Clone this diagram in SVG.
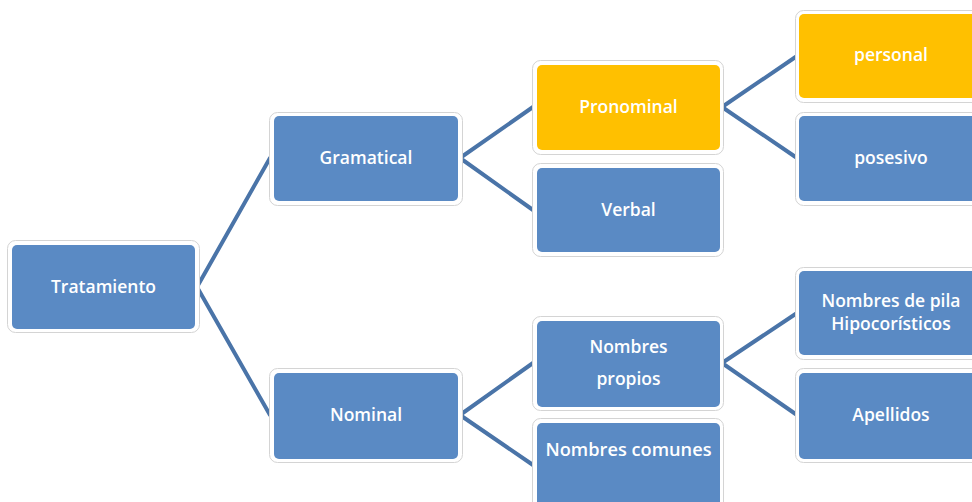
<svg xmlns="http://www.w3.org/2000/svg" width="972" height="502" viewBox="0 0 972 502">
<style>
.o{fill:#fff;stroke:#d4d4d4;stroke-width:1}
.b{fill:#5a8ac4}
.y{fill:#ffc000}
.t{font-family:"Open Sans","Liberation Sans",sans-serif;font-weight:600;font-size:17.5px;fill:#fff;text-anchor:middle}
.c{stroke:#4a74a8;stroke-width:4;fill:none;stroke-linecap:round}
</style>
<g id="connectors">
<path class="c" d="M197,287 L270,158 M197,287 L270,415"/>
<path class="c" d="M460,158 L533,107 M460,158 L533,210"/>
<path class="c" d="M460,415 L533,363 M460,415 L533,465"/>
<path class="c" d="M722,107 L797,56 M722,107 L797,158"/>
<path class="c" d="M722,363 L797,313 M722,363 L797,415"/>
</g>
<g id="n-tratamiento">
<rect class="o" x="7.5" y="240.5" width="192" height="92" rx="8"/>
<rect class="b" x="12" y="245" width="183" height="84" rx="5"/>
<text class="t" x="103.5" y="293">Tratamiento</text>
</g>
<g id="n-gramatical">
<rect class="o" x="269.5" y="112.5" width="193" height="93" rx="8"/>
<rect class="b" x="274" y="116" width="184" height="85" rx="5"/>
<text class="t" x="366" y="164">Gramatical</text>
</g>
<g id="n-nominal">
<rect class="o" x="269.5" y="368.5" width="193" height="94" rx="8"/>
<rect class="b" x="274" y="373" width="184" height="86" rx="5"/>
<text class="t" x="366" y="421">Nominal</text>
</g>
<g id="n-pronominal">
<rect class="o" x="532.5" y="60.5" width="191" height="94" rx="8"/>
<rect class="y" x="537" y="65" width="183" height="85" rx="5"/>
<text class="t" x="628.5" y="113">Pronominal</text>
</g>
<g id="n-verbal">
<rect class="o" x="532.5" y="163.5" width="191" height="93" rx="8"/>
<rect class="b" x="537" y="168" width="183" height="84" rx="5"/>
<text class="t" x="628.5" y="216">Verbal</text>
</g>
<g id="n-nombres-propios">
<rect class="o" x="532.5" y="316.5" width="191" height="94" rx="8"/>
<rect class="b" x="537" y="321" width="183" height="86" rx="5"/>
<text class="t" x="628.5" y="353">Nombres</text>
<text class="t" x="628.5" y="385">propios</text>
</g>
<g id="n-nombres-comunes">
<rect class="o" x="532.5" y="418.5" width="191" height="94" rx="8"/>
<rect class="b" x="537" y="423" width="183" height="86" rx="5"/>
<text class="t" x="628.5" y="456" textLength="166" lengthAdjust="spacingAndGlyphs">Nombres comunes</text>
</g>
<g id="n-personal">
<rect class="o" x="795.5" y="10.5" width="191" height="92" rx="8"/>
<rect class="y" x="799" y="14" width="183" height="84" rx="5"/>
<text class="t" x="891" y="61">personal</text>
</g>
<g id="n-posesivo">
<rect class="o" x="795.5" y="112.5" width="191" height="93" rx="8"/>
<rect class="b" x="799" y="116" width="183" height="85" rx="5"/>
<text class="t" x="891" y="164">posesivo</text>
</g>
<g id="n-nombres-pila">
<rect class="o" x="795.5" y="267.5" width="191" height="92" rx="8"/>
<rect class="b" x="799" y="271" width="183" height="84" rx="5"/>
<text class="t" x="891" y="307">Nombres de pila</text>
<text class="t" x="891" y="330">Hipocorísticos</text>
</g>
<g id="n-apellidos">
<rect class="o" x="795.5" y="368.5" width="191" height="94" rx="8"/>
<rect class="b" x="799" y="373" width="183" height="86" rx="5"/>
<text class="t" x="891" y="421">Apellidos</text>
</g>
</svg>
